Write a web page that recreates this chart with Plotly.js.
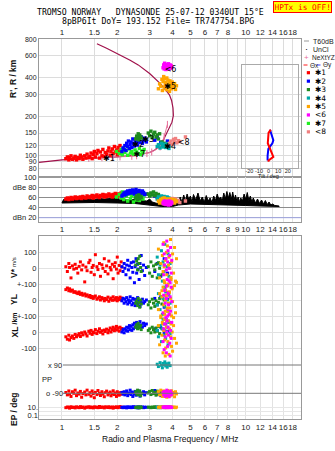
<!DOCTYPE html>
<html><head><meta charset="utf-8">
<script src="https://cdn.plot.ly/plotly-3.0.1.min.js"></script>
<style>html,body{margin:0;padding:0;background:#fff}</style>
</head><body><div id="chart" style="width:335px;height:451px"></div>
<script>
// ---------------- DATA ----------------
const freqTicks = [1,1.5,2,3,4,5,6,7,8,9,10,12,14,16,18];
const freqTextTop = ['1','1.5','2','3','4','5','6','7','8','','10','12','14','16','18'];
const freqTextMid = ['1','1.5','2','3','4','5','6','7','8','9','10','12','14','16','18'];
const heightTicks = [80,90,100,120,150,200,300,400,600,800];
const dbTicks = [100,80,60,40,20];
const dbTickText = ['100','dBe 80','60','40','dBn 20'];
const tiltTicks = [-20,-10,0,10,20];

// plasma frequency profile
const prof_f = [0.75,0.86,1.0,1.2,1.5,2.0,2.5,3.0,3.2,3.4,3.55,3.7,3.85,3.97,4.04,4.02,3.95,3.85,3.72,3.42,3.0,2.6,2.35,1.98,1.75,1.55];
const prof_h = [89,91,93,94,95.5,98,101,106,111,119,131,148,165,182,205,235,268,295,315,363,433,505,549,624,680,735];
// NeXtYZ
const nx_f = [1.16,1.4,1.65,1.9,2.07,2.4,2.55,2.9,3.08,3.42,3.6,3.75];
const nx_h = [95.5,95.5,96.5,98,98,99,100,104,107,117,140,175];

// echo groups
const f_red = [1.05,1.07,1.09,1.1,1.12,1.14,1.16,1.18,1.2,1.22,1.24,1.26,1.28,1.3,1.33,1.35,1.37,1.4,1.42,1.44,1.46,1.48,1.5,1.52,1.55,1.57,1.6,1.62,1.65,1.67,1.7,1.72,1.75,1.78,1.8,1.83,1.85,1.88,1.9,1.93,1.95,1.98,2.0,2.02,2.05,2.07,2.1,2.12];
const h_red = [95,98,93,97,100,94,96,99,93,97,95,101,98,94,100,96,103,97,99,105,95,102,108,98,104,110,96,107,100,112,99,106,103,109,115,101,108,113,104,118,107,111,102,116,109,120,105,112];
const db_red = [56,58,55,57,59,56,58,60,57,59,58,60,57,61,59,58,62,60,59,61,63,58,62,60,64,61,59,63,62,65,60,64,61,63,66,62,64,60,65,63,67,64,62,66,65,63,68,64];
const v_red = [10,-20,30,5,-60,15,-5,25,0,-30,12,40,-10,20,-85,8,-15,35,50,-25,5,18,-40,85,10,-8,30,-50,22,0,60,-20,15,-35,45,5,-10,25,-65,12,35,-5,70,-30,18,-15,40,8];
const yl_red = [65,75,58,70,55,62,48,52,45,40,50,35,42,30,38,25,32,20,28,15,22,10,18,25,5,12,20,0,15,8,-5,10,2,18,-8,5,12,-2,20,0,8,15,-5,10,3,18,0,12];
const xl_red = [-30,-45,-20,-50,-35,-25,-40,-15,-30,-20,-10,-28,-5,-18,0,-12,-25,5,-8,10,-15,0,-5,15,-10,5,20,-2,8,-12,12,3,18,-5,10,25,0,15,30,8,20,35,12,25,5,30,18,22];
const pp_red = [-85,-100,-75,-95,-110,-80,-90,-70,-105,-88,-95,-78,-115,-92,-82,-100,-70,-96,-86,-108,-75,-92,-118,-84,-98,-72,-90,-104,-80,-95,-112,-86,-76,-100,-90,-82,-106,-94,-74,-98,-88,-110,-80,-92,-102,-86,-96,-84];
const ep_red = [8,12,10,6,14,9,11,7,13,10,8,15,9,12,6,11,10,14,8,12,9,7,13,10,11,8,16,9,12,10,7,13,11,9,14,8,10,12,6,11,9,13,10,8,12,15,9,11];

const f_blue = [2.12,2.15,2.18,2.2,2.23,2.25,2.28,2.3,2.33,2.35,2.38,2.4,2.43,2.45,2.48,2.5,2.53,2.55,2.58,2.6,2.63,2.66,2.7,2.74,2.78,2.82,2.88,3.2,3.3,3.45,3.6,3.75];
const h_blue = [108,115,112,120,110,125,118,130,114,122,128,116,135,124,119,132,126,138,121,129,134,127,140,125,131,137,128,132,138,127,122,130];
const db_blue = [62,65,68,64,70,66,72,67,69,73,68,71,74,70,66,72,75,69,71,68,73,70,67,72,69,65,66,62,60,58,55,57];
const v_blue = [10,-20,30,0,-40,20,50,-10,15,-60,35,5,-25,40,-90,10,60,-30,25,-5,-70,30,80,-15,20,-45,5,-20,30,-50,60,-30];
const yl_blue = [-5,10,-20,5,-10,15,-25,0,-15,20,-5,-30,10,-20,5,-35,0,-10,15,-25,-5,-40,-15,5,-20,-10,0,10,-30,20,-45,5];
const xl_blue = [0,15,-5,20,10,30,5,25,40,15,35,10,45,20,55,30,40,60,25,50,35,65,45,30,55,40,50,20,10,30,-10,5];
const pp_blue = [-85,-95,-80,-100,-90,-75,-105,-88,-92,-70,-98,-82,-110,-86,-94,-78,-102,-90,-84,-96,-76,-108,-88,-92,-80,-100,-86,-72,-95,-105,-80,-90];
const ep_blue = [10,8,12,9,11,7,13,10,9,12,8,11,10,14,9,12,8,10,11,7,13,9,10,12,8,11,10,9,12,8,10,11];

const f_lgreen = [1.98,2.05,2.1,2.13,2.17,2.2,2.24,2.28,2.32,2.36,2.4,2.45,2.5,2.55,2.6,2.64,2.68,2.72,2.76,2.8];
const h_lgreen = [108,104,112,102,115,106,110,101,113,105,108,103,111,107,104,114,102,109,106,112];
const db_lgreen = [60,65,58,70,55,68,62,52,66,57,63,50,60,54,67,53,58,61,56,64];

const f_dgreen = [2.52,2.55,2.58,2.6,2.62,2.65,2.68,2.7,2.95,3.0,3.05,3.1,3.15,3.2,3.25,3.3,3.35,3.4,3.5,3.6];
const h_dgreen = [135,142,138,148,133,145,140,137,150,143,155,138,147,152,140,145,135,148,128,125];
const db_dgreen = [58,62,55,60,64,57,61,59,66,62,68,64,70,63,67,61,65,60,58,56];
const v_dgreen = [20,45,-10,60,30,75,5,-20,10,-30,40,-50,15,-10,25,-60,35,0,-40,20];
const yl_dgreen = [-20,-5,-35,10,-15,-45,0,-25,-30,-10,-50,5,-20,-40,-5,-30,-15,10,-25,0];
const xl_dgreen = [30,45,20,55,35,25,40,15,10,20,-5,30,15,0,25,5,35,-10,20,10];
const pp_dgreen = [-80,-95,-70,-100,-85,-75,-105,-90,-88,-78,-98,-72,-92,-84,-102,-76,-94,-86,-80,-96];
const ep_dgreen = [9,11,8,12,10,7,13,9,11,10,8,12,9,14,10,8,11,9,12,10];

const f_teal = [3.3,3.35,3.42,3.48,3.52,3.55,3.6,3.63,3.67,3.7,3.74,3.78,3.82,3.88];
const h_teal = [118,122,115,125,120,117,123,119,116,121,124,118,114,120];
const db_teal = [56,60,54,62,58,55,61,57,59,53,60,56,58,55];
const v_teal = [70,-40,20,110,-80,40,-20,150,60,-110,10,90,-50,30];
const yl_teal = [-30,40,-60,20,-90,10,80,-40,50,-120,0,-70,30,-20];
const xl_teal = [10,-30,40,-60,20,80,-20,50,-40,0,30,-80,60,-10];
const pp_teal = [95,80,105,88,72,100,92,110,84,98,76,90,102,86];
const ep_teal = [10,8,12,9,11,10,13,8,11,9,12,10,9,11];

const f_orange = [3.35,3.4,3.45,3.5,3.52,3.55,3.58,3.6,3.62,3.65,3.67,3.7,3.72,3.75,3.77,3.8,3.82,3.85,3.87,3.9,3.92,3.95,3.98,4.0,4.05,4.1,4.15,4.2];
const h_orange = [330,360,345,390,320,375,410,340,395,355,370,325,400,350,385,335,365,315,380,345,360,330,372,350,338,362,326,348];
const db_orange = [52,48,55,50,57,47,53,58,49,54,51,56,48,52,55,50,53,47,56,51,49,54,52,50,55,48,53,51];
const v_orange = [120,-60,30,-140,80,-20,160,10,-90,50,-170,100,-40,140,-110,20,70,-150,0,180,-70,40,-120,90,-30,130,-80,60];
const yl_orange = [-60,40,-110,20,-150,80,-30,120,-90,0,60,-130,30,-70,100,-20,-140,50,-50,10,140,-100,70,-10,-160,90,-40,110];
const xl_orange = [40,-80,100,-20,60,-130,10,80,-50,130,-100,30,-10,150,-60,70,-140,20,110,-30,50,-90,0,-120,90,-40,120,-70];
const pp_orange = [-80,-100,-70,-95,-110,-85,-75,-105,-90,147,-98,-82,-115,-88,-72,-102,-92,-78,-108,-86,-96,-74,-100,-84,-90,-112,-80,-94];
const ep_orange = [10,12,8,11,9,13,10,8,12,11,9,10,14,8,11,10,12,9,10,13,8,11,10,9,12,10,8,11];

const f_mag = [3.55,3.58,3.6,3.62,3.65,3.68,3.7,3.72,3.74,3.76,3.78,3.8,3.83,3.86,3.88,3.9,3.93,3.96];
const h_mag = [480,505,470,520,490,465,510,485,500,475,495,515,470,488,505,478,498,482];
const db_mag = [48,50,46,52,47,45,51,49,46,50,48,44,52,47,49,45,50,48];
const v_mag = [150,-40,90,20,-120,60,-10,170,-70,40,110,-150,0,80,-90,130,-30,50];
const yl_mag = [-80,30,-120,60,-20,-150,10,90,-60,-100,40,-30,120,-140,20,-70,80,-10];
const xl_mag = [-60,20,-110,50,-30,90,-130,0,70,-90,30,-20,110,-70,-150,10,-40,60];
const pp_mag = [-85,-100,-78,-95,-110,-82,-92,-70,-104,-88,-96,-80,-112,-86,-94,-76,-100,-90];
const ep_mag = [10,12,9,11,13,10,8,12,11,9,10,14,8,11,10,12,9,10];

const f_pink = [3.85,3.92,3.98,4.05,4.1,4.15,4.22,4.3,4.38,4.7];
const h_pink = [125,130,122,134,128,136,126,131,129,140];
const db_pink = [55,52,57,50,54,56,51,53,49,52];

// group labels in the height panel
const lab_f = [1.8,2.6,2.95,3.88,3.88,3.9,2.64,4.6];
const lab_h = [95,121,133,117,338,458,101,126];
const lab_t = ['✱1','✱2','✱3','✱4','✱5','<6','✱7','<8'];

// tilt inset
const tilt_red_x = [2.3,0,-0.8,3.3,5,0,0];
const tilt_red_h = [159,150,125,107,98,92,90];
const tilt_blue_x = [1.5,5,4,-0.2,-1,-1];
const tilt_blue_h = [159,132,125,113,100,92];

// receiver noise / amplitude envelope (black)
const noise_f = [1.0,1.02,1.1,1.2,1.3,1.4,1.5,1.6,1.7,1.8,1.9,2.0,2.1,2.3,2.5,2.7,2.9,3.0,3.1,3.3,3.6,4.0,4.2,4.3,4.4,4.5,4.6,4.7,4.8,4.9,5.0,5.1,5.2,5.35,5.5,5.65,5.8,5.95,6.1,6.25,6.4,6.55,6.7,6.85,7.0,7.15,7.3,7.45,7.6,7.75,7.9,8.05,8.2,8.35,8.5,8.65,8.8,8.95,9.1,9.25,9.4,9.6,9.8,10.0,10.2,10.4,10.6,10.8,11.0,11.3,11.6,11.9,12.2,12.5,12.8,13.1,13.4,13.7,14.0,14.4,14.8,15.2,
  15.2,14.0,12.0,10.0,8.0,6.0,5.0,4.3,4.0,3.5,3.0,2.5,2.0,1.5,1.0];
const noise_db = [48,55,56,55,57,56,55,57,56,57,58,57,55,54,55,53,52,56,50,47,46,47,52,48,60,50,64,52,66,55,62,50,65,54,68,52,60,50,63,52,58,49,62,53,66,55,60,52,68,56,71,58,69,55,70,54,64,52,60,50,58,52,66,55,69,53,62,50,58,48,56,47,54,46,53,45,50,44,46,43,43,42,
  41,41,42,43,44,45,46,44,41,41,44,47,48,49,48];

const legendLabels = ['✱1','✱2','✱3','✱4','✱5','<6','✱7','<8'];

// ---------------- LAYOUT HELPERS ----------------
const W=335,H=451,ML=39,MR=34,MT=39,MB=32;
const PW=W-ML-MR, PH=H-MT-MB;
const px = x => (x-ML)/PW;
const py = y => (H-MB-y)/PH;
const TOP_B=177, DB_B=221.7, LOW_T=236, LOW_B=H-MB;
const linRange = (zeroPx, perPx) => [-(LOW_B-zeroPx)*perPx, (zeroPx-LOW_T)*perPx];

const C = {red:'#ff0000', blue:'#0000ff', dgreen:'#1f8a1f', lgreen:'#22ee22', teal:'#00a8a8', orange:'#ffa500', mag:'#ff00ff', pink:'#f08080'};
const groups = [
  {c:C.red, f:f_red, h:h_red, db:db_red, v:v_red, yl:yl_red, xl:xl_red, pp:pp_red, ep:ep_red},
  {c:C.lgreen, f:f_lgreen, h:h_lgreen, db:db_lgreen},
  {c:C.blue, f:f_blue, h:h_blue, db:db_blue, v:v_blue, yl:yl_blue, xl:xl_blue, pp:pp_blue, ep:ep_blue},
  {c:C.dgreen, f:f_dgreen, h:h_dgreen, db:db_dgreen, v:v_dgreen, yl:yl_dgreen, xl:xl_dgreen, pp:pp_dgreen, ep:ep_dgreen},
  {c:C.teal, f:f_teal, h:h_teal, db:db_teal, v:v_teal, yl:yl_teal, xl:xl_teal, pp:pp_teal, ep:ep_teal},
  {c:C.pink, f:f_pink, h:h_pink, db:db_pink},
  {c:C.orange, f:f_orange, h:h_orange, db:db_orange, v:v_orange, yl:yl_orange, xl:xl_orange, pp:pp_orange, ep:ep_orange},
  {c:C.mag, f:f_mag, h:h_mag, db:db_mag, v:v_mag, yl:yl_mag, xl:xl_mag, pp:pp_mag, ep:ep_mag}
];
const legendColors = [C.red,C.blue,C.dgreen,C.teal,C.orange,C.mag,C.lgreen,C.pink];

const mk = (x,y,color,xa,ya,size) => ({type:'scatter',mode:'markers',x,y,xaxis:xa,yaxis:ya,
  marker:{symbol:'square',size:size||3.4,color,line:{width:0}},hoverinfo:'skip',showlegend:false,cliponaxis:true});

const traces = [];
traces.push({type:'scatter',mode:'lines',x:prof_f,y:prof_h,xaxis:'x',yaxis:'y',line:{color:'#a0104a',width:1.2},hoverinfo:'skip',showlegend:false});
traces.push({type:'scatter',mode:'lines+markers',x:nx_f,y:nx_h,xaxis:'x',yaxis:'y',line:{color:'#e8709a',width:1},
  marker:{symbol:'line-ns-open',size:5,color:'#e8709a',line:{width:1,color:'#e8709a'}},hoverinfo:'skip',showlegend:false});
groups.forEach(g=>traces.push(mk(g.f,g.h,g.c,'x','y')));
traces.push({type:'scatter',mode:'text',x:lab_f,y:lab_h,text:lab_t,xaxis:'x',yaxis:'y',
  textfont:{family:'DejaVu Sans',size:8,color:'#000'},hoverinfo:'skip',showlegend:false});
traces.push({type:'scatter',mode:'lines',x:tilt_blue_x,y:tilt_blue_h,xaxis:'x4',yaxis:'y8',line:{color:'#0000ff',width:2},hoverinfo:'skip',showlegend:false});
traces.push({type:'scatter',mode:'lines',x:tilt_red_x,y:tilt_red_h,xaxis:'x4',yaxis:'y8',line:{color:'#ff0000',width:2},hoverinfo:'skip',showlegend:false});
traces.push({type:'scatter',mode:'lines',x:noise_f,y:noise_db,xaxis:'x2',yaxis:'y2',fill:'toself',fillcolor:'#000',line:{color:'#000',width:1},hoverinfo:'skip',showlegend:false});
groups.forEach(g=>traces.push(mk(g.f,g.db,g.c,'x2','y2')));
groups.filter(g=>g.v).forEach(g=>{
  traces.push(mk(g.f,g.v,g.c,'x3','y3',3));
  traces.push(mk(g.f,g.yl,g.c,'x3','y4',3));
  traces.push(mk(g.f,g.xl,g.c,'x3','y5',3));
  traces.push(mk(g.f,g.pp,g.c,'x3','y6',3));
  traces.push(mk(g.f,g.ep,g.c,'x3','y7',3));
});

const tf = {family:'Liberation Sans, Arial, sans-serif',size:8,color:'#222'};
const tfs = {family:'Liberation Sans, Arial, sans-serif',size:7.5,color:'#222'};
const tfy = {family:'Liberation Sans, Arial, sans-serif',size:7,color:'#222'};
const xr = [Math.log10(0.75),Math.log10(20)];
const frame = {showline:true,mirror:true,linecolor:'#999',linewidth:1,zeroline:false,ticks:''};

const layout = {
  width:W,height:H,margin:{l:ML,r:MR,t:MT,b:MB,pad:0},
  paper_bgcolor:'#fff',plot_bgcolor:'rgba(0,0,0,0)',showlegend:false,
  font:tf,
  xaxis:Object.assign({},frame,{type:'log',range:xr,anchor:'y',side:'top',tickvals:freqTicks,ticktext:freqTextTop,
    tickfont:tf,tickangle:0,gridcolor:'#dcdcdc',showgrid:true}),
  yaxis:Object.assign({},frame,{type:'log',domain:[py(TOP_B),1],range:[1.836,2.9035],anchor:'x',tickvals:heightTicks,
    ticktext:heightTicks.map(String),tickfont:tfy,gridcolor:'#dcdcdc'}),
  xaxis2:Object.assign({},frame,{type:'log',range:xr,anchor:'y2',side:'bottom',tickvals:freqTicks,ticktext:freqTextMid,
    tickfont:tf,tickangle:0,gridcolor:'#e2e2e2'}),
  yaxis2:Object.assign({},frame,{domain:[py(DB_B),py(TOP_B)],range:[10.6,100],anchor:'x2',tickvals:dbTicks,ticktext:dbTickText,
    tickfont:tfs,gridcolor:'#8c8c8c'}),
  xaxis3:Object.assign({},frame,{type:'log',range:xr,anchor:'y3',side:'bottom',tickvals:freqTicks,ticktext:freqTextTop,
    tickfont:tf,tickangle:0,gridcolor:'#e2e2e2'}),
  yaxis3:Object.assign({},frame,{domain:[0,py(LOW_T)],range:linRange(268.3,6.25),anchor:'x3',
    tickvals:[100,0,-100,-200,-300,-400,-500],ticktext:['100','0','+-100','0','+-100','0','-100'],tickfont:tfs,gridcolor:'#e2e2e2'}),
  yaxis4:{overlaying:'y3',anchor:'x3',range:linRange(300,6.25),visible:false},
  yaxis5:{overlaying:'y3',anchor:'x3',range:linRange(332,6.25),visible:false},
  yaxis6:{overlaying:'y3',anchor:'x3',range:linRange((365+393.3)/2,180/28.3),visible:false},
  yaxis7:{overlaying:'y3',anchor:'x3',type:'log',range:[1-(LOW_B-407.3)/3.85,1+(407.3-LOW_T)/3.85],
    tickvals:[10,1,0.1],ticktext:['10.','','0.1'],tickfont:tfs,gridcolor:'#e6e6e6',showline:false,zeroline:false,ticks:''},
  xaxis4:{domain:[px(241.7),px(297.7)],range:[-28,30.4],anchor:'y8',showline:true,mirror:true,linecolor:'#aaa',
    showgrid:false,zeroline:false,ticks:'',tickvals:tiltTicks,ticktext:tiltTicks.map(String),tickangle:0,ticklabelstandoff:-2,
    tickfont:{family:'Liberation Sans, Arial, sans-serif',size:5.5,color:'#222'}},
  yaxis8:{domain:[py(167.7),py(65)],type:'log',range:[Math.log10(80.9),Math.log10(502)],anchor:'x4',showline:true,mirror:true,
    linecolor:'#aaa',showgrid:false,zeroline:false,ticks:'',showticklabels:false},
  shapes:[],annotations:[]
};

const S = layout.shapes, A = layout.annotations;
const ann = (x,y,text,opt) => A.push(Object.assign({xref:'paper',yref:'paper',x:px(x),y:py(y),text,showarrow:false,
  xanchor:'center',yanchor:'middle',font:tf},opt||{}));
const hline = (x0,x1,y,color,w) => S.push({type:'line',xref:'paper',yref:'paper',x0:px(x0),x1:px(x1),y0:py(y),y1:py(y),line:{color,width:w||1}});

// dBn 20 line
hline(ML,W-MR,217.7,'#aab0ee',1);
// PP reference lines
hline(63,W-MR,365,'#777',1);
hline(63,W-MR,393.3,'#777',1);

// titles
const mono = {family:'DejaVu Sans Mono, monospace',size:8.2,color:'#000'};
ann(150,12,'TROMSO\u00a0NORWAY\u00a0\u00a0\u00a0DYNASONDE\u00a025-07-12\u00a00340UT\u00a015°E',{font:mono});
ann(157.5,21,'8pBP6It\u00a0DoY=\u00a0193.152\u00a0File=\u00a0TR747754.BPG',{font:mono});
ann(302.5,7,'HPTx is OFF!',{font:{family:'DejaVu Sans Mono, monospace',size:7.8,color:'#ff0000'},bgcolor:'#ffff00',
  bordercolor:'#ff0000',borderwidth:1,borderpad:0.5});

// axis titles
const bt = {family:'Liberation Sans, Arial, sans-serif',size:8.5,color:'#111'};
ann(13,79,"<b>R', R / km</b>",{textangle:-90,font:bt});
ann(14,273,'<b>V*</b>',{textangle:-90,font:bt});
ann(14,262,'m/s',{textangle:-90,font:{family:'Liberation Sans, Arial',size:6,color:'#111'}});
ann(14,300,'<b>YL</b>',{textangle:-90,font:bt});
ann(14,318.5,'<b>/km</b>',{textangle:-90,font:{family:'Liberation Sans, Arial',size:7,color:'#111'}});
ann(14,332.5,'<b>XL</b>',{textangle:-90,font:bt});
ann(14,410,'<b>EP / deg</b>',{textangle:-90,font:bt});
ann(170,439,'Radio and Plasma Frequency / MHz',{font:{family:'Liberation Sans, Arial',size:8.5,color:'#111'}});
ann(54.5,365,'x 90',{font:tfs});
ann(46.5,379,'PP',{font:tfs});
ann(54.5,393.3,'o -90',{font:tfs});
ann(268.5,176.5,'Tilt / deg',{font:{family:'Liberation Sans, Arial',size:5.5,color:'#222'}});

// legend
const lf = {family:'Liberation Sans, Arial, sans-serif',size:7,color:'#222'};
hline(304,309,41,'#aaa',1.2); ann(310.5,41,'T60dB',{xanchor:'left',font:lf});
ann(306.5,48.5,'·',{font:{size:9,color:'#000'}}); ann(310.5,49.5,'UnCl',{xanchor:'left',font:lf});
ann(306.5,57,'+',{font:{size:8,color:'#e8709a'}}); ann(309.5,57,'NeXtYZ',{xanchor:'left',font:{family:'Liberation Sans, Arial',size:6.5,color:'#222'}});
hline(303.5,307.5,65,'#ff4040',1.2); ann(307.5,65,'Θx',{xanchor:'left',font:{family:'Liberation Sans, Arial',size:6.5,color:'#222'}});
hline(316.5,320.5,65,'#6060ff',1.2); ann(320.5,65,'Θy',{xanchor:'left',font:{family:'Liberation Sans, Arial',size:6.5,color:'#222'}});
legendLabels.forEach((t,i)=>{
  const y = 72.7 + i*8.45;
  S.push({type:'rect',xref:'paper',yref:'paper',x0:px(306.8),x1:px(310),y0:py(y+1.6),y1:py(y-1.6),line:{width:0},fillcolor:legendColors[i]});
  ann(313,y,t,{xanchor:'left',font:{family:'DejaVu Sans',size:7.5,color:'#000'}});
});

Plotly.newPlot('chart',traces,layout,{staticPlot:true,displayModeBar:false});
</script></body></html>
